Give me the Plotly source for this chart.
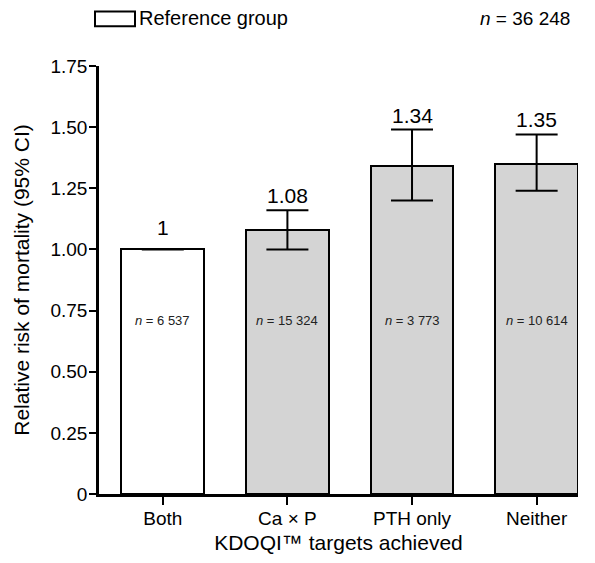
import plotly.graph_objects as go

categories = ["Both", "Ca × P", "PTH only", "Neither"]
rr = [1.00, 1.08, 1.34, 1.35]
ci_low = [1.00, 1.00, 1.20, 1.24]
ci_high = [1.00, 1.16, 1.49, 1.47]
labels = ["1", "1.08", "1.34", "1.35"]
n_labels = ["6 537", "15 324", "3 773", "10 614"]
fills = ["#ffffff", "#d4d4d4", "#d4d4d4", "#d4d4d4"]
ytick_vals = [0, 0.25, 0.5, 0.75, 1.0, 1.25, 1.5, 1.75]
ytick_text = ["0", "0.25", "0.50", "0.75", "1.00", "1.25", "1.50", "1.75"]
n_label_y = 0.71
total_n = "36 248"

FONT = "Liberation Sans, Arial, sans-serif"
x = list(range(len(categories)))

fig = go.Figure()
fig.add_trace(go.Bar(
    x=x, y=rr, width=0.664,
    marker=dict(color=fills, line=dict(color="black", width=2)),
    error_y=dict(type="data", symmetric=False,
                 array=[h - v for h, v in zip(ci_high, rr)],
                 arrayminus=[v - l for l, v in zip(ci_low, rr)],
                 color="black", thickness=2, width=21),
    showlegend=False, hoverinfo="skip",
))

for i in x:
    fig.add_annotation(x=i, y=ci_high[i], text=labels[i], showarrow=False,
                       xanchor="center", yanchor="bottom",
                       yshift=8 if i == 0 else 1,
                       font=dict(family=FONT, size=21, color="black"))
    fig.add_annotation(x=i, y=n_label_y, text="<i>n</i> = " + n_labels[i],
                       showarrow=False, xanchor="center", yanchor="middle",
                       font=dict(family=FONT, size=13, color="#222"))

# legend-like header
fig.add_shape(type="rect", xref="paper", yref="paper",
              x0=(95 - 99) / 479, x1=(135 - 99) / 479,
              y0=1 + (66 - 26) / 432, y1=1 + (66 - 11) / 432,
              line=dict(color="black", width=2), fillcolor="white")
fig.add_annotation(xref="paper", yref="paper", x=(137 - 99) / 479,
                   y=1 + (66 - 18) / 432, text="Reference group",
                   showarrow=False, xanchor="left", yanchor="middle",
                   font=dict(family=FONT, size=20, color="black"))
fig.add_annotation(xref="paper", yref="paper", x=(572 - 99) / 479,
                   y=1 + (66 - 18) / 432, text="<i>n</i> = " + total_n,
                   showarrow=False, xanchor="right", yanchor="middle",
                   font=dict(family=FONT, size=19, color="black"))

fig.update_layout(
    width=595, height=563,
    margin=dict(l=99, r=17, t=66, b=65),
    plot_bgcolor="white", paper_bgcolor="white",
    font=dict(family=FONT, color="black"),
    bargap=0,
)
fig.update_xaxes(
    range=[-0.512, 3.332], tickmode="array", tickvals=x, ticktext=categories,
    showline=True, linecolor="black", linewidth=2.5, ticks="outside",
    ticklen=8, tickwidth=2, tickcolor="black", showgrid=False, zeroline=False,
    tickfont=dict(size=19), ticklabelstandoff=-3,
    title=dict(text="KDOQI™ targets achieved", font=dict(size=21), standoff=8),
)
fig.update_yaxes(
    range=[0, 1.75], tickmode="array", tickvals=ytick_vals, ticktext=ytick_text,
    showline=True, linecolor="black", linewidth=2.5, ticks="outside",
    ticklen=7, tickwidth=2, tickcolor="black", showgrid=False, zeroline=False,
    tickfont=dict(size=19), ticklabelstandoff=-2,
    title=dict(text="Relative risk of mortality (95% CI)", font=dict(size=21), standoff=16),
)

fig.write_html("out.html")
